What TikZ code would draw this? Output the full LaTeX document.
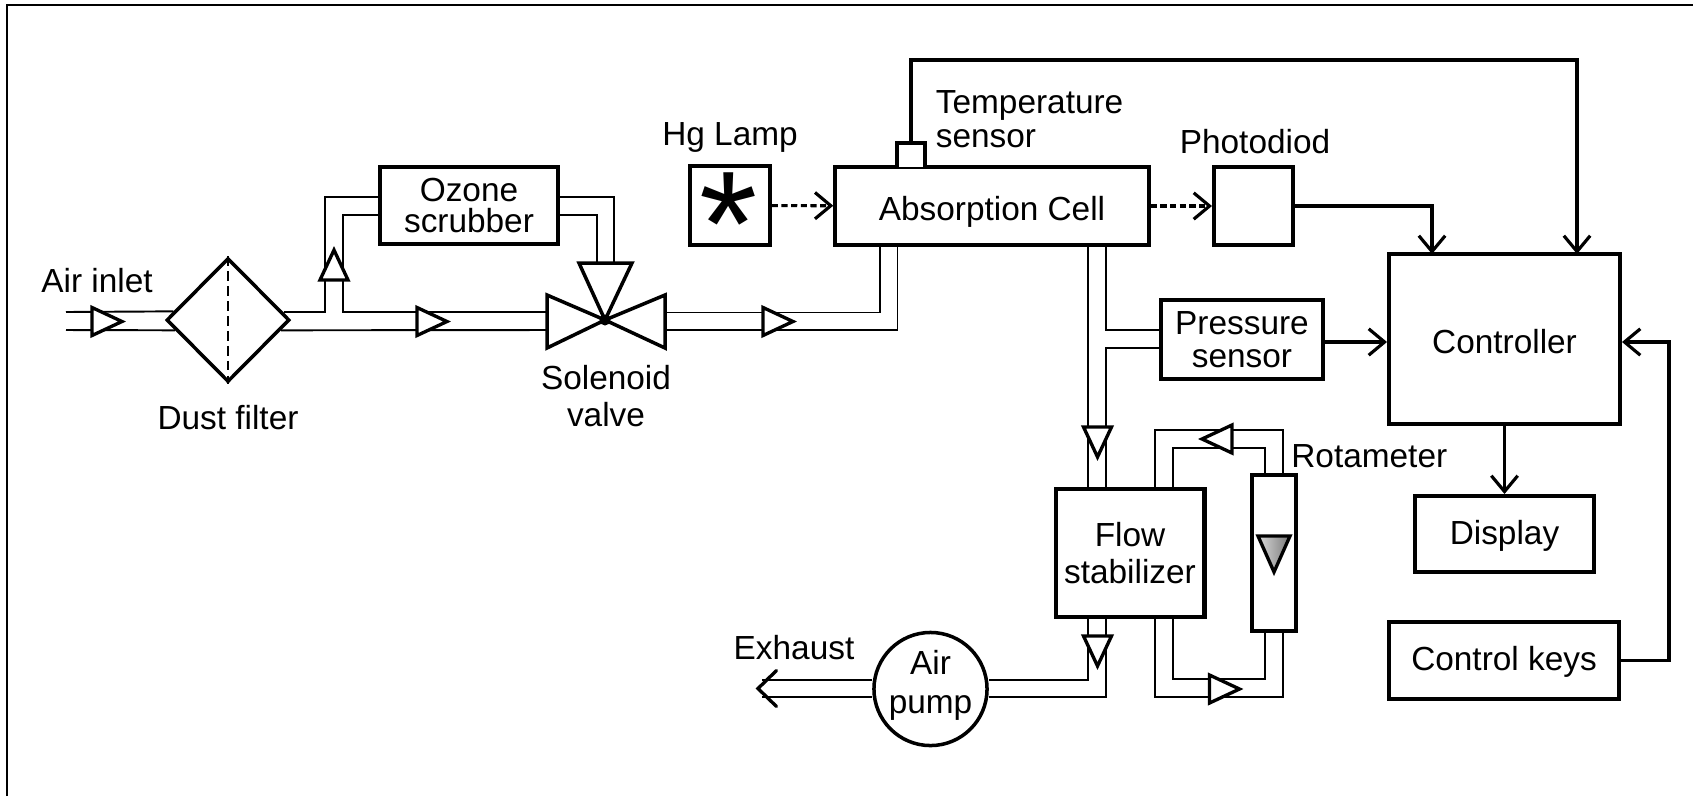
\documentclass[tikz,border=0pt]{standalone}
\usepackage{fontspec}
\setmainfont{Liberation Sans}
\usetikzlibrary{arrows.meta}
\usetikzlibrary{shapes.geometric}

\tikzset{
  box/.style={draw,line width=2.3pt,fill=white,align=center,inner sep=0pt},
  label/.style={anchor=base,align=center,inner sep=0pt},
  pipe/.style={draw,line width=1.1pt},
  sig/.style={line width=1.8pt,-{Straight Barb[length=9pt,width=15pt,line width=1.8pt]}},
  beam/.style={sig,dash pattern=on 3.5pt off 2pt},
  flowtip/.pic={\draw[line width=1.9pt,fill=white] (0,-14) -- (30,0) -- (0,14) -- cycle;},
  every node/.style={font=\fontsize{19}{21}\selectfont}
}

\begin{document}
\begin{tikzpicture}[x=0.02cm,y=-0.02cm]
\useasboundingbox (0,0) rectangle (1693,796);
\coordinate (corner) at (7,5);
\draw[line width=1.2pt] (7,796) -- (corner) -- (1693,5);

% equipment
\node[box,diamond,minimum width=2.46cm,minimum height=2.48cm,line width=2pt] (filter) at (228,320) {};
\node[box,minimum width=3.56cm,minimum height=1.54cm] (ozone) at (469,205.5) {Ozone\\[-3pt]scrubber};
\node[box,minimum width=1.59cm,minimum height=1.58cm] (lamp) at (730,205.5) {};
\node[box,minimum width=6.27cm,minimum height=1.56cm,text height=17pt,text depth=0pt] (cell) at (992,206) {Absorption Cell};
\node[box,minimum width=1.58cm,minimum height=1.56cm] (diode) at (1253.5,206) {};
\node[box,minimum width=3.25cm,minimum height=1.58cm] (press) at (1242,339.5) {Pressure\\[-2pt]sensor};
\node[box,minimum width=4.62cm,minimum height=3.4cm,text height=16.4pt] (control) at (1504.5,339) {Controller};
\node[box,minimum width=3.58cm,minimum height=1.52cm,text depth=2pt] (display) at (1504.5,534) {Display};
\node[box,minimum width=4.6cm,minimum height=1.54cm,text depth=2pt] (keys) at (1504,660.5) {Control keys};
\node[box,minimum width=2.98cm,minimum height=2.56cm] (stab) at (1130,553) {Flow\\stabilizer};
\node[box,minimum width=0.88cm,minimum height=3.12cm] (rota) at (1274,553) {};
\node[box,circle,minimum size=2.26cm,line width=2pt,text depth=8pt] (pump) at (930.5,689) {Air\\[1pt]pump};
\coordinate (valve) at (605,320);
\coordinate (outlet) at (758,688.5);

% pipes
\draw[pipe] (66,312) -- (filter.171.5);
\draw[pipe] (66,330) -- (filter.191);
\draw[pipe] (filter.8.5) -| (325,197) -- (ozone.west |- 0,197);
\draw[pipe] (ozone.west |- 0,215) -| (343,312) -- (547,312);
\draw[pipe] (filter.-11) -- (547,330);
\draw[pipe] (ozone.east |- 0,197) -| (614,263);
\draw[pipe] (ozone.east |- 0,215) -| (597,263);
\draw[pipe] (665,312.5) -| (880,245);
\draw[pipe] (665,330) -| (897.5,245);
\draw[pipe] (1106,245) |- (press.west |- 0,330);
\draw[pipe] (press.west |- 0,348) -| (1106,489);
\draw[pipe] (1088,245) -- (1088,489);
\draw[pipe] (1155,489) |- (1283,430) -- (1283,475);
\draw[pipe] (1173,489) |- (1265,448) -- (1265,475);
\draw[pipe] (1155,617) |- (1283,697) -- (1283,631);
\draw[pipe] (1173,617) |- (1265,679) -- (1265,631);
\draw[pipe] (1088,617) |- (pump.east |- 0,680);
\draw[pipe] (1106,617) |- (pump.east |- 0,697);
\draw[pipe] (pump.west |- 0,680) -- (762,680);
\draw[pipe] (pump.west |- 0,697) -- (762,697);
\draw[line width=1.9pt,line cap=round] (776.5,670.5) -- (outlet) -- (776.5,706.5);

% solenoid valve
\draw[line width=2pt,fill=white] (valve) -- (579,263) -- (632,263) -- cycle;
\draw[line width=2pt,fill=white] (valve) -- (547,295) -- (547,348) -- cycle;
\draw[line width=2pt,fill=white] (valve) -- (665,295) -- (665,348) -- cycle;
\fill (valve) circle[radius=5.5];

% bits on the boxes
\draw[line width=1pt,dash pattern=on 5.5pt off 3pt] (filter.north) -- (filter.south);
\draw[line width=2pt,fill=white] (897,167) |- (925,143) -- (925,167);
\draw[line width=1.9pt,left color=gray!30,right color=gray!95!black] (1258,536) -- (1290,536) -- (1274,572) -- cycle;
\node[anchor=base,font=\fontsize{85}{85}\selectfont,inner sep=0pt] (star) at (729,275) {*};

% flow marks
\pic at (92,321.5) {flowtip};
\pic at (417,321.5) {flowtip};
\pic at (763,321.5) {flowtip};
\pic[rotate=90] at (334,280) {flowtip};
\pic[rotate=-90] at (1097.5,427) {flowtip};
\pic[rotate=-90] at (1097.5,636) {flowtip};
\pic[rotate=180] at (1232,439) {flowtip};
\pic at (1209.5,689) {flowtip};

% signals
\path[beam] (lamp) edge (cell);
\path[beam] (cell) edge (diode);
\path[sig] (press.east |- 0,342) edge (control.west |- 0,342);
\path[sig] (control) edge (display);
\draw[sig] (diode.east) -| (1432,254);
\draw[sig] (911,143) |- (1577,60) -- (1577,254);
\draw[sig] (keys.east) -| (1669,342) -- (control.east |- 0,342);

% labels
\node[label] (inlet) at (97,292) {Air inlet};
\node[label] (dust) at (228,429) {Dust filter};
\node[label] (solenoid) at (606,426) {Solenoid\\[0pt]valve};
\node[label] (hg) at (730,145) {Hg Lamp};
\node[label,anchor=base west,align=left] (temp) at (935.5,147) {Temperature\\[-2pt]sensor};
\node[label] (photo) at (1255,153) {Photodiod};
\node[label,anchor=base west] (meter) at (1291,467) {Rotameter};
\node[label] (exhaust) at (794,659) {Exhaust};
\end{tikzpicture}
\end{document}
